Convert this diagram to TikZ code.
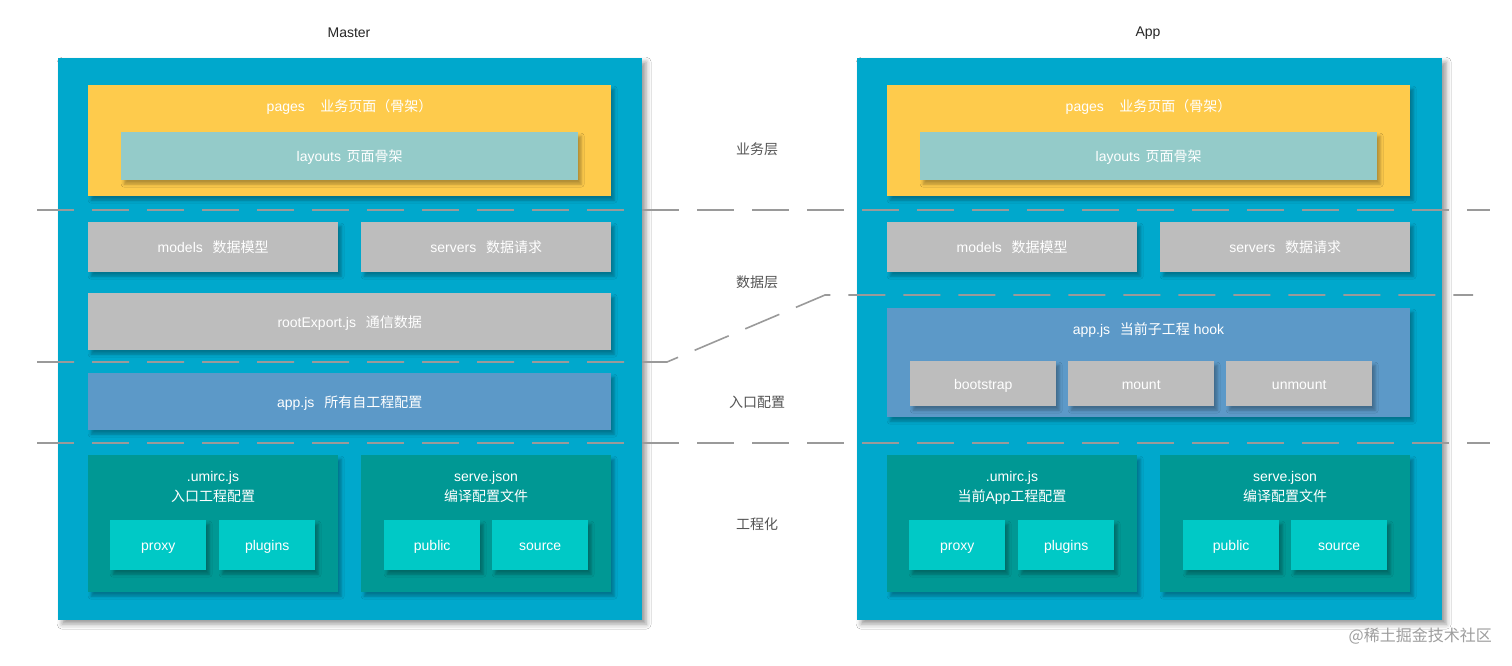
\documentclass[tikz,border=0pt]{standalone}
\usepackage{fontspec}
\setmainfont{Liberation Sans}
\newfontfamily\cjk{Noto Sans CJK SC}
\usetikzlibrary{shadows,shadows.blur}
\definecolor{panelc}{HTML}{00A8CC}
\definecolor{yelc}{HTML}{FECB4C}
\definecolor{layc}{HTML}{94CBC9}
\definecolor{grayc}{HTML}{BDBDBD}
\definecolor{bluec}{HTML}{5C99C8}
\definecolor{tealc}{HTML}{009894}
\definecolor{cyanc}{HTML}{00C9C6}
\definecolor{dashc}{HTML}{9A9A9A}
\definecolor{labc}{HTML}{555555}
\tikzset{
  panel/.style={fill=panelc, draw=none, inner sep=0pt, anchor=north west,
    blur shadow={shadow xshift=4pt, shadow yshift=-4pt, shadow blur radius=5pt,
      shadow blur extra rounding=0pt, shadow opacity=40}},
  bx/.style={draw=none, inner sep=0pt, anchor=north west, text=white,
    font=\fontsize{14}{16}\selectfont, text height=12pt, text depth=1pt,
    blur shadow={shadow xshift=3pt, shadow yshift=-4pt, shadow blur radius=3pt,
      shadow blur extra rounding=0pt, shadow opacity=30}},
  txt/.style={text=white, inner sep=0pt, font=\fontsize{14}{16}\selectfont,
    text height=12pt, text depth=1pt},
  ttl/.style={text=black!85, inner sep=0pt, font=\fontsize{14}{16}\selectfont},
  lay/.style={text=labc, inner sep=0pt, font=\fontsize{14}{16}\selectfont\cjk},
  sep/.style={draw=dashc, line width=1.6pt, dash pattern=on 37pt off 18pt}
}
\begin{document}
\begin{tikzpicture}[x=1pt,y=-1pt]
\useasboundingbox (0,0) rectangle (1512,666);
\fill[white] (0,0) rectangle (1512,666);

% titles
\node[ttl] (tm) at (349,33) {Master};
\node[ttl] (ta) at (1148,33) {App};

% panels
\node[panel, minimum width=584, minimum height=562] (pL) at (58,58) {};
\node[panel, minimum width=585, minimum height=562] (pR) at (857,58) {};

% separators
\coordinate (s1a) at (37,210); \coordinate (s1b) at (1490,210);
\coordinate (s2a) at (37,362); \coordinate (s2b) at (667,362);
\coordinate (s2c) at (825,295); \coordinate (s2d) at (1473,295);
\coordinate (s3a) at (37,443); \coordinate (s3b) at (1490,443);
\draw[sep] (s1a) -- (s1b);
\draw[sep] (s2a) -- (s2b) -- (s2c) -- (s2d);
\draw[sep] (s3a) -- (s3b);

% layer labels
\node[lay] (l1) at (757,149) {业务层};
\node[lay] (l2) at (757,282) {数据层};
\node[lay] (l3) at (757,402) {入口配置};
\node[lay] (l4) at (757,524) {工程化};

% ---------------- Master ----------------
\node[bx, fill=yelc, minimum width=523, minimum height=111] (pagesL) at (88,85) {};
\node[txt] (pagesLt) at (349.5,106) {pages\hspace{1.1em}{\cjk 业务页面（骨架）}};
\node[bx, fill=layc, minimum width=457, minimum height=48] (layL) at (121,132) {layouts\hspace{0.4em}{\cjk 页面骨架}};
\node[bx, fill=grayc, minimum width=250, minimum height=50] (modL) at (88,222) {models\hspace{0.7em}{\cjk 数据模型}};
\node[bx, fill=grayc, minimum width=250, minimum height=50] (srvL) at (361,222) {servers\hspace{0.7em}{\cjk 数据请求}};
\node[bx, fill=grayc, minimum width=523, minimum height=57] (rootL) at (88,293) {rootExport.js\hspace{0.7em}{\cjk 通信数据}};
\node[bx, fill=bluec, minimum width=523, minimum height=57] (appL) at (88,373) {app.js\hspace{0.7em}{\cjk 所有自工程配置}};
\node[bx, fill=tealc, minimum width=250, minimum height=137] (umiL) at (88,455) {};
\node[txt] (umiLt1) at (213,476) {.umirc.js};
\node[txt] (umiLt2) at (213,496) {\cjk 入口工程配置};
\node[bx, fill=tealc, minimum width=250, minimum height=137] (serL) at (361,455) {};
\node[txt] (serLt1) at (486,476) {serve.json};
\node[txt] (serLt2) at (486,496) {\cjk 编译配置文件};
\node[bx, fill=cyanc, minimum width=96, minimum height=50] (proxyL) at (110,520) {proxy};
\node[bx, fill=cyanc, minimum width=96, minimum height=50] (plugL) at (219,520) {plugins};
\node[bx, fill=cyanc, minimum width=96, minimum height=50] (pubL) at (384,520) {public};
\node[bx, fill=cyanc, minimum width=96, minimum height=50] (srcL) at (492,520) {source};

% ---------------- App ----------------
\node[bx, fill=yelc, minimum width=523, minimum height=111] (pagesR) at (887,85) {};
\node[txt] (pagesRt) at (1148.5,106) {pages\hspace{1.1em}{\cjk 业务页面（骨架）}};
\node[bx, fill=layc, minimum width=457, minimum height=48] (layR) at (920,132) {layouts\hspace{0.4em}{\cjk 页面骨架}};
\node[bx, fill=grayc, minimum width=250, minimum height=50] (modR) at (887,222) {models\hspace{0.7em}{\cjk 数据模型}};
\node[bx, fill=grayc, minimum width=250, minimum height=50] (srvR) at (1160,222) {servers\hspace{0.7em}{\cjk 数据请求}};
\node[bx, fill=bluec, minimum width=523, minimum height=109] (appR) at (887,308) {};
\node[txt] (appRt) at (1148.5,329) {app.js\hspace{0.7em}{\cjk 当前子工程} hook};
\node[bx, fill=grayc, minimum width=146, minimum height=45] (bootR) at (910,361) {bootstrap};
\node[bx, fill=grayc, minimum width=146, minimum height=45] (mntR) at (1068,361) {mount};
\node[bx, fill=grayc, minimum width=146, minimum height=45] (umntR) at (1226,361) {unmount};
\node[bx, fill=tealc, minimum width=250, minimum height=137] (umiR) at (887,455) {};
\node[txt] (umiRt1) at (1012,476) {.umirc.js};
\node[txt] (umiRt2) at (1012,496) {{\cjk 当前}App{\cjk 工程配置}};
\node[bx, fill=tealc, minimum width=250, minimum height=137] (serR) at (1160,455) {};
\node[txt] (serRt1) at (1285,476) {serve.json};
\node[txt] (serRt2) at (1285,496) {\cjk 编译配置文件};
\node[bx, fill=cyanc, minimum width=96, minimum height=50] (proxyR) at (909,520) {proxy};
\node[bx, fill=cyanc, minimum width=96, minimum height=50] (plugR) at (1018,520) {plugins};
\node[bx, fill=cyanc, minimum width=96, minimum height=50] (pubR) at (1183,520) {public};
\node[bx, fill=cyanc, minimum width=96, minimum height=50] (srcR) at (1291,520) {source};

% watermark
\node[inner sep=0pt, anchor=east, text=black!38, font=\fontsize{16}{18}\selectfont\cjk] (wm) at (1492,636) {@稀土掘金技术社区};
\end{tikzpicture}
\end{document}
